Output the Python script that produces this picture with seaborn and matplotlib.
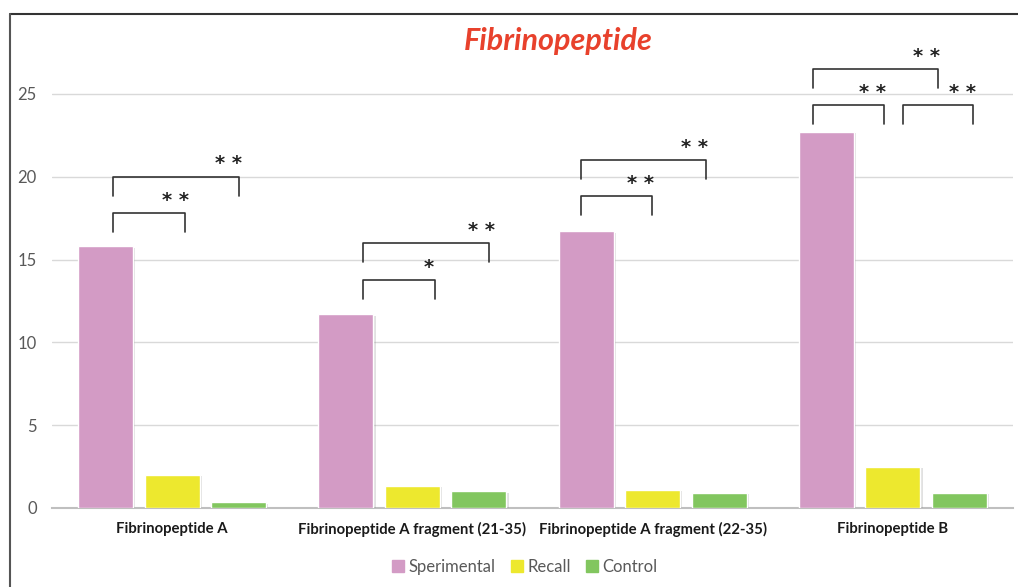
import matplotlib
matplotlib.use("Agg")
import matplotlib.pyplot as plt
import matplotlib.patheffects as pe
import seaborn as sns
import pandas as pd
from matplotlib.patches import Rectangle
from matplotlib.lines import Line2D

categories = ["Fibrinopeptide A", "Fibrinopeptide A fragment (21-35)",
              "Fibrinopeptide A fragment (22-35)", "Fibrinopeptide B"]
groups = ["Sperimental", "Recall", "Control"]
sperimental = [15.8, 11.7, 16.7, 22.7]
recall = [2.0, 1.35, 1.1, 2.5]
control = [0.35, 1.0, 0.9, 0.9]
colors = ["#D39BC5", "#EDE82E", "#82C65F"]

# significance brackets: (x_left, x_right, y_top, label, label_x)
brackets = [
    (-0.246, 0.054, 17.8, "**", 0.012),
    (-0.246, 0.279, 20.0, "**", 0.233),
    (0.796, 1.096, 13.77, "*", 1.067),
    (0.796, 1.321, 16.0, "**", 1.288),
    (1.70, 1.996, 18.84, "**", 1.95),
    (1.70, 2.221, 21.01, "**", 2.175),
    (2.667, 2.9625, 24.34, "**", 2.917),
    (3.042, 3.333, 24.34, "**", 3.29),
    (2.667, 3.1875, 26.51, "**", 3.14),
]

rows = []
for g, vals in zip(groups, [sperimental, recall, control]):
    for c, v in zip(categories, vals):
        rows.append({"category": c, "group": g, "value": v})
df = pd.DataFrame(rows)

sns.set_style("white")
plt.rcParams["font.family"] = ["Lato", "DejaVu Sans"]

fig = plt.figure(figsize=(10.18, 5.87), dpi=100)
ax = fig.add_axes([52 / 1018, 79 / 587, 961 / 1018, 463.7 / 587])

sns.barplot(data=df, x="category", y="value", hue="group", order=categories,
            hue_order=groups, palette=colors, width=0.83, gap=0.17,
            saturation=1, ax=ax, legend=False, zorder=3)
for p in ax.patches:
    p.set_path_effects([pe.SimplePatchShadow(offset=(1.5, -1), alpha=0.25,
                                             shadow_rgbFace="#888888"),
                        pe.Normal()])

ax.set_xlim(-0.5, 3.5)
ax.set_ylim(0, 28)
ax.set_yticks([0, 5, 10, 15, 20, 25])
ax.set_yticklabels(["0", "5", "10", "15", "20", "25"])
ax.yaxis.grid(True, color="#D9D9D9", linewidth=1, zorder=0)
ax.set_axisbelow(True)
for s in ["top", "right", "left"]:
    ax.spines[s].set_visible(False)
ax.spines["bottom"].set_color("#BFBFBF")
ax.spines["bottom"].set_linewidth(1.5)
ax.tick_params(axis="both", length=0)
ax.tick_params(axis="y", labelsize=12, labelcolor="#595959", pad=11)
ax.tick_params(axis="x", labelsize=10.7, pad=10)
for t in ax.get_xticklabels():
    t.set_fontweight("bold")
    t.set_color("#1a1a1a")
ax.set_xlabel("")
ax.set_ylabel("")

leg_h = 1.15
for xl, xr, yt, lab, lx in brackets:
    ax.plot([xl, xl, xr, xr], [yt - leg_h, yt, yt, yt - leg_h], color="#333333",
            lw=1.2, clip_on=False, zorder=5, solid_joinstyle="round")
    ax.text(lx, yt + 0.2, " ".join(lab), ha="center", va="bottom", fontsize=14,
            color="#222222", fontweight="bold", clip_on=False, family="DejaVu Sans")

fig.text(558 / 1018, 1 - 41 / 587, "Fibrinopeptide", ha="center", va="center",
         fontsize=22, fontweight="bold", fontstyle="italic", color="#E8412C")

handles = [Rectangle((0, 0), 1, 1, color=c) for c in colors]
fig.legend(handles, groups, loc="center", bbox_to_anchor=(525 / 1018, 1 - 567 / 587),
           ncol=3, frameon=False, fontsize=12, handlelength=0.7, handleheight=0.7,
           columnspacing=0.9, handletextpad=0.3, labelcolor="#595959")

# outer frame
fig.add_artist(Line2D([10 / 1018, 1.0], [1 - 13.5 / 587, 1 - 13.5 / 587],
                      transform=fig.transFigure, color="#333333", lw=1.5))
fig.add_artist(Line2D([10 / 1018, 10 / 1018], [0, 1 - 13.5 / 587],
                      transform=fig.transFigure, color="#555555", lw=1.5))

fig.savefig("out.png", dpi=100)
